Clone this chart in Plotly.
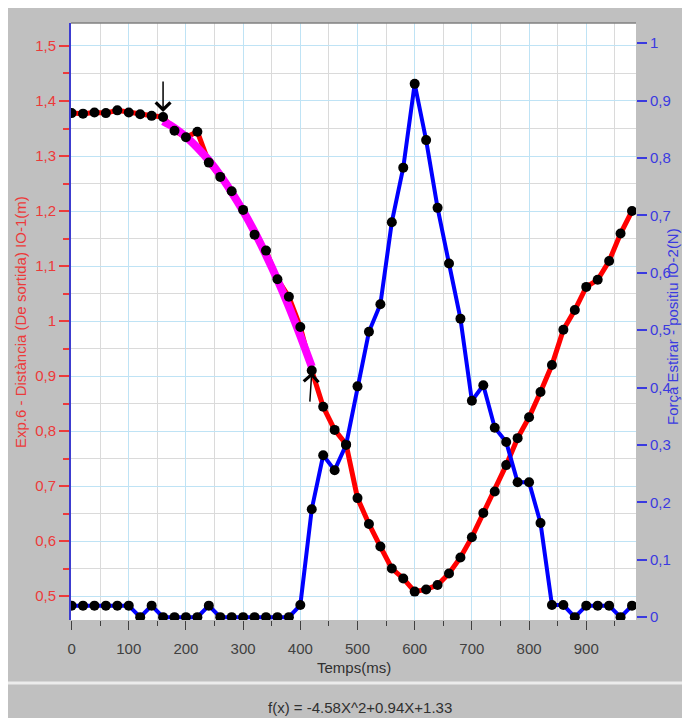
import plotly.graph_objects as go

# ---------------- data ----------------
time_ms = [0, 20, 40, 60, 80, 100, 120, 140, 160, 180, 200, 220, 240, 260, 280, 300,
           320, 340, 360, 380, 400, 420, 440, 460, 480, 500, 520, 540, 560, 580, 600,
           620, 640, 660, 680, 700, 720, 740, 760, 780, 800, 820, 840, 860, 880, 900,
           920, 940, 960, 980]

distance_m = [1.378, 1.377, 1.379, 1.378, 1.383, 1.379, 1.376, 1.373, 1.371, 1.346,
              1.334, 1.344, 1.288, 1.262, 1.236, 1.202, 1.157, 1.128, 1.076, 1.044,
              0.989, 0.910, 0.844, 0.802, 0.776, 0.678, 0.631, 0.590, 0.550, 0.532,
              0.508, 0.512, 0.520, 0.541, 0.570, 0.607, 0.651, 0.690, 0.738, 0.787,
              0.825, 0.871, 0.920, 0.984, 1.020, 1.062, 1.075, 1.109, 1.159, 1.200]

force_n = [0.02, 0.02, 0.02, 0.02, 0.02, 0.02, 0.0, 0.02, 0.0, 0.0,
           0.0, 0.0, 0.02, 0.0, 0.0, 0.0, 0.0, 0.0, 0.0, 0.0,
           0.021, 0.188, 0.282, 0.256, 0.300, 0.402, 0.497, 0.545, 0.688, 0.783,
           0.929, 0.831, 0.713, 0.616, 0.520, 0.377, 0.404, 0.330, 0.305, 0.235,
           0.235, 0.164, 0.021, 0.021, 0.0, 0.02, 0.02, 0.02, 0.0, 0.02]

# fitted curve (magenta) read along the picture between the two arrows
fit_time_ms = [160, 180, 200, 220, 240, 260, 280, 300, 320, 340, 360, 380, 400, 420]
fit_distance_m = [1.363, 1.351, 1.335, 1.315, 1.292, 1.265, 1.234, 1.200, 1.162,
                  1.120, 1.075, 1.026, 0.973, 0.917]

left_title = "Exp.6 - Distància (De sortida) IO-1(m)"
right_title = "Força Estirar - positiu IO-2(N)"
x_title = "Temps(ms)"
formula = "f(x) = -4.58X^2+0.94X+1.33"

# ---------------- figure ----------------
FONT = "Arial, Liberation Sans, sans-serif"
RED_TXT = "#ec3a3a"
BLUE_TXT = "#3a3ae0"
GRID_MAJ = "#bfe3f5"
GRID_MIN = "#dadada"
GRAY = "#c0c0c0"

fig = go.Figure()

fig.add_trace(go.Scatter(x=time_ms, y=force_n, yaxis="y2", mode="lines",
                         line=dict(color="#0000ff", width=4), hoverinfo="skip",
                         showlegend=False))
fig.add_trace(go.Scatter(x=time_ms, y=distance_m, mode="lines",
                         line=dict(color="#ff0000", width=5), hoverinfo="skip",
                         showlegend=False))
fig.add_trace(go.Scatter(x=fit_time_ms, y=fit_distance_m, mode="lines",
                         line=dict(color="#ff00ff", width=8, shape="spline"),
                         hoverinfo="skip", showlegend=False))
fig.add_trace(go.Scatter(x=time_ms, y=force_n, yaxis="y2", mode="markers",
                         marker=dict(color="black", size=10), showlegend=False))
fig.add_trace(go.Scatter(x=time_ms, y=distance_m, mode="markers",
                         marker=dict(color="black", size=10), showlegend=False))

OFF = 8  # page body margin
W, H = 682, 710
L, T = 71 - OFF, 23 - OFF
R = W - (636 - OFF)
B = H - (620 - OFF)
pw, ph = W - L - R, H - T - B


def px(xpix):
    return (xpix - OFF - L) / pw


def py(ypix):
    return (H - B - (ypix - OFF)) / ph


fig.update_layout(
    width=W, height=H, autosize=False,
    margin=dict(l=L, r=R, t=T, b=B, pad=0),
    paper_bgcolor=GRAY, plot_bgcolor="white",
    separators=",.",
    font=dict(family=FONT, size=15, color="#404040"),
    xaxis=dict(range=[-1, 987], tick0=0, dtick=100, ticks="outside", ticklen=9,
               tickcolor="#404040", tickwidth=1, tickfont=dict(size=15, color="#404040"),
               ticklabelstandoff=6,
               showgrid=True, gridcolor=GRID_MAJ, gridwidth=1, zeroline=False,
               showline=False,
               minor=dict(dtick=50, tick0=0, ticks="outside", ticklen=5,
                          tickcolor="#404040", showgrid=True, gridcolor=GRID_MIN)),
    yaxis=dict(range=[0.4564, 1.5418], tick0=0.5, dtick=0.1, ticks="outside",
               ticklen=10, tickcolor=RED_TXT, tickwidth=1.5,
               tickfont=dict(size=15, color=RED_TXT),
               showgrid=True, gridcolor=GRID_MAJ, zeroline=False,
               showline=True, linecolor="#3c3cd0", linewidth=2,
               minor=dict(dtick=0.05, tick0=0.5, ticks="outside", ticklen=6,
                          tickcolor=RED_TXT, showgrid=True, gridcolor=GRID_MIN)),
    yaxis2=dict(range=[-0.005, 1.035], tick0=0, dtick=0.1, overlaying="y",
                side="right", ticks="outside", ticklen=10, tickcolor=BLUE_TXT,
                tickwidth=1.5, tickfont=dict(size=15, color=BLUE_TXT),
                showgrid=False, zeroline=False, showline=False),
)

shapes = [
    # separator above the formula band
    dict(type="line", xref="paper", yref="paper", x0=px(0), x1=px(700), y0=py(683),
         y1=py(683), line=dict(color="#ececec", width=3)),
    # top border of plot
    dict(type="line", xref="paper", yref="paper", x0=0, x1=1, y0=1, y1=1,
         line=dict(color="#808080", width=1.5)),
]
fig.update_layout(shapes=shapes)

annotations = [
    dict(text=x_title, xref="paper", yref="paper", x=0.5, y=py(668),
         xanchor="center", yanchor="middle", showarrow=False,
         font=dict(size=15, color="#303030")),
    dict(text=formula, xref="paper", yref="paper", x=px(360), y=py(707),
         xanchor="center", yanchor="middle", showarrow=False,
         font=dict(size=15, color="#303030")),
    dict(text=left_title, xref="paper", yref="paper", x=px(20), y=py(322),
         xanchor="center", yanchor="middle", showarrow=False, textangle=-90,
         font=dict(size=15, color=RED_TXT)),
    dict(text=right_title, xref="paper", yref="paper", x=px(672), y=py(327),
         xanchor="center", yanchor="middle", showarrow=False, textangle=-90,
         font=dict(size=15, color=BLUE_TXT)),
    # arrows marking the fit interval
    dict(text="", x=fit_time_ms[0], y=1.38, xref="x", yref="y", showarrow=True,
         ax=0, ay=-32, arrowhead=4, arrowsize=1.9, arrowwidth=1.5, arrowcolor="black"),
    dict(text="", x=fit_time_ms[-1], y=0.907, xref="x", yref="y", showarrow=True,
         ax=-2, ay=31, arrowhead=4, arrowsize=1.9, arrowwidth=1.5, arrowcolor="black"),
]
fig.update_layout(annotations=annotations)

fig.write_html("out.html")
